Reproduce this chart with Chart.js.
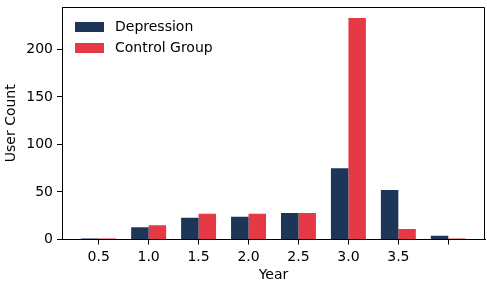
<!DOCTYPE html>
<html>
<head>
<meta charset="utf-8">
<script src="https://cdn.jsdelivr.net/npm/chart.js@4"></script>
<style>
  html, body { margin: 0; padding: 0; background: #fff; }
</style>
</head>
<body>
<canvas id="chart" width="487" height="282"></canvas>
<script>
// data
const years = ['0.5', '1.0', '1.5', '2.0', '2.5', '3.0', '3.5', ''];
const depression = [1, 13, 23, 24, 28, 75, 52, 4];
const controlGroup = [1, 15, 27, 27, 28, 233, 11, 1];
const yTicks = [0, 50, 100, 150, 200];

const NAVY = '#1d3557';
const RED = '#e63946';

Chart.defaults.font.family = '"DejaVu Sans", sans-serif';
Chart.defaults.font.size = 14;
Chart.defaults.color = '#000';

// top and right spines (left/bottom come from the axes)
const frame = {
  id: 'frame',
  afterDraw(chart) {
    const { ctx, chartArea: a } = chart;
    const l = Math.round(a.left), r = Math.round(a.right) - 0.5;
    const t = Math.round(a.top) + 0.5, b = Math.round(a.bottom);
    ctx.save();
    ctx.strokeStyle = '#000';
    ctx.lineWidth = 1;
    ctx.beginPath();
    ctx.moveTo(l, t);
    ctx.lineTo(r, t);
    ctx.lineTo(r, b);
    ctx.stroke();
    ctx.restore();
  }
};

// legend sitting inside the plot, top-left
const innerLegend = {
  id: 'innerLegend',
  afterDraw(chart) {
    const { ctx, chartArea: a } = chart;
    ctx.save();
    ctx.font = '14px "DejaVu Sans"';
    ctx.textBaseline = 'middle';
    chart.data.datasets.forEach((ds, i) => {
      const y = a.top + 20 + i * 21;
      ctx.fillStyle = ds.backgroundColor;
      ctx.fillRect(a.left + 13, y - 5, 29, 10);
      ctx.fillStyle = '#000';
      ctx.fillText(ds.label, a.left + 53, y + 0.5);
    });
    ctx.restore();
  }
};

const axisGrid = { drawOnChartArea: false, offset: false, tickLength: 5, tickColor: '#000', tickWidth: 1 };
const axisBorder = { color: '#000', width: 1 };

new Chart(document.getElementById('chart'), {
  type: 'bar',
  data: {
    datasets: [
      { label: 'Depression', data: depression.map((y, i) => ({ x: i, y })), backgroundColor: NAVY },
      { label: 'Control Group', data: controlGroup.map((y, i) => ({ x: i, y })), backgroundColor: RED }
    ]
  },
  options: {
    responsive: false,
    animation: false,
    devicePixelRatio: 1,
    categoryPercentage: 0.7,
    barPercentage: 1,
    layout: { padding: { top: 7, right: 2, left: 0, bottom: 0 } },
    plugins: { legend: { display: false }, tooltip: { enabled: false } },
    scales: {
      x: {
        type: 'linear',
        offset: false,
        min: -0.735,
        max: 7.735,
        afterBuildTicks: s => { s.ticks = years.map((_, i) => ({ value: i })); },
        afterFit: s => { s.height = 42.5; s.paddingLeft = 0; s.paddingRight = 0; },
        ticks: { autoSkip: false, maxRotation: 0, padding: 4, callback: v => years[v] },
        grid: axisGrid,
        border: axisBorder,
        title: { display: true, text: 'Year', padding: { top: 0, bottom: -2 } }
      },
      y: {
        min: 0,
        max: 244.7,
        afterBuildTicks: s => { s.ticks = yTicks.map(v => ({ value: v })); },
        afterFit: s => { s.width = 62; s.paddingTop = 0; s.paddingBottom = 0; },
        ticks: { padding: 4 },
        grid: axisGrid,
        border: axisBorder,
        title: { display: true, text: 'User Count', padding: { top: 3, bottom: 0 } }
      }
    }
  },
  plugins: [frame, innerLegend]
});
</script>
</body>
</html>
